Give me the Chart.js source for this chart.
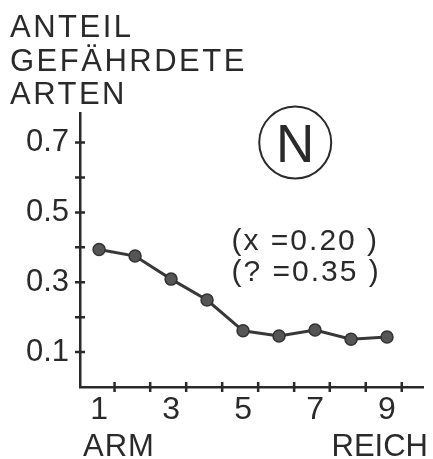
<!DOCTYPE html>
<html><head><meta charset="utf-8">
<script src="https://cdn.jsdelivr.net/npm/chart.js@4"></script>
<style>html,body{margin:0;padding:0;background:#fff}#wrap{width:433px;height:459px;position:relative}</style>
</head><body><div id="wrap"><canvas id="c"></canvas></div>
<script>
const titleLines = ['ANTEIL', 'GEFÄHRDETE', 'ARTEN'];
const categories = [1, 2, 3, 4, 5, 6, 7, 8, 9];
const shareEndangered = [0.394, 0.375, 0.309, 0.249, 0.161, 0.146, 0.163, 0.137, 0.143];
const xTickLabels = [1, 3, 5, 7, 9];
const yTickLabels = [0.1, 0.3, 0.5, 0.7];
const yTickMarks = [0.1, 0.2, 0.3, 0.4, 0.5, 0.6, 0.7];
const xTickMarks = [1.43, 2.42, 3.42, 4.42, 5.42, 6.42, 7.41, 8.41, 9.41];
const xEndLabels = ['ARM', 'REICH'];
const badgeText = 'N';
const statLines = ['(x =0.20 )', '(? =0.35 )'];

const INK = '#2a2a2a';
const FONT = '"Liberation Sans", Arial, sans-serif';

const decor = {
  id: 'decor',
  beforeDraw(chart) { chart.ctx.letterSpacing = '2.5px'; },
  beforeDatasetsDraw(chart) { chart.ctx.letterSpacing = '0px'; },
  afterDraw(chart) {
    const { ctx, scales: { x, y }, chartArea: a } = chart;
    ctx.save();
    ctx.strokeStyle = INK;
    ctx.lineWidth = 2.5;
    ctx.beginPath();
    yTickMarks.forEach(v => { const p = y.getPixelForValue(v); ctx.moveTo(a.left - 5, p); ctx.lineTo(a.left + 5, p); });
    xTickMarks.forEach(v => { const p = x.getPixelForValue(v); ctx.moveTo(p, a.bottom - 5); ctx.lineTo(p, a.bottom + 5); });
    ctx.stroke();

    ctx.fillStyle = INK;
    ctx.font = '31px ' + FONT;
    ctx.textBaseline = 'alphabetic';
    ctx.letterSpacing = '1px';
    ctx.textAlign = 'left';
    ctx.fillText(xEndLabels[0], a.left + 3, chart.height - 3);
    ctx.letterSpacing = '0px';
    ctx.textAlign = 'right';
    ctx.fillText(xEndLabels[1], chart.width - 5, chart.height - 3);

    ctx.letterSpacing = '2px';
    ctx.font = '30px ' + FONT;
    ctx.textAlign = 'left';
    const sx = x.getPixelForValue(4.68);
    ctx.fillText(statLines[0], sx, y.getPixelForValue(0.393));
    ctx.fillText(statLines[1], sx, y.getPixelForValue(0.305));
    ctx.letterSpacing = '0px';

    const cx = x.getPixelForValue(6.45), cy = y.getPixelForValue(0.70);
    ctx.lineWidth = 2;
    ctx.beginPath();
    ctx.arc(cx, cy, 36, 0, Math.PI * 2);
    ctx.stroke();
    ctx.font = '53px ' + FONT;
    ctx.textAlign = 'center';
    ctx.textBaseline = 'alphabetic';
    ctx.fillText(badgeText, cx, cy + 19);
    ctx.restore();
  }
};

new Chart(document.getElementById('c'), {
  type: 'line',
  data: {
    datasets: [{
      data: categories.map((c, i) => ({ x: c, y: shareEndangered[i] })),
      borderColor: '#383838',
      borderWidth: 3,
      pointRadius: 6,
      pointBackgroundColor: '#555',
      pointBorderColor: '#333',
      pointBorderWidth: 1.5,
      tension: 0,
      fill: false
    }]
  },
  options: {
    responsive: true,
    maintainAspectRatio: false,
    animation: false,
    layout: { padding: { left: 10, right: 10, top: 0, bottom: 0 } },
    plugins: {
      legend: { display: false },
      tooltip: { enabled: false },
      title: {
        display: true,
        text: titleLines,
        align: 'start',
        color: INK,
        font: { family: FONT, size: 31, weight: 'normal', lineHeight: 1.08 },
        padding: { top: 12, bottom: 0.5 }
      }
    },
    scales: {
      x: {
        type: 'linear',
        min: 0.47,
        max: 10,
        afterBuildTicks: s => { s.ticks = xTickLabels.map(v => ({ value: v })); },
        afterFit: s => { s.height = 72; },
        grid: { display: false, drawTicks: false },
        border: { display: true, color: INK, width: 2.5, z: 1 },
        ticks: { z: 1, color: INK, font: { family: FONT, size: 32 }, padding: 4, autoSkip: false, maxRotation: 0, callback: v => String(v) }
      },
      y: {
        min: 0,
        max: 0.785,
        afterBuildTicks: s => { s.ticks = yTickLabels.map(v => ({ value: v })); },
        afterFit: s => { s.width = 70; },
        grid: { display: false, drawTicks: false },
        border: { display: true, color: INK, width: 2.5, z: 1 },
        ticks: { z: 1, color: INK, font: { family: FONT, size: 31 }, padding: 11, callback: v => Number(v).toFixed(1) }
      }
    }
  },
  plugins: [decor]
});
</script>
</body></html>
